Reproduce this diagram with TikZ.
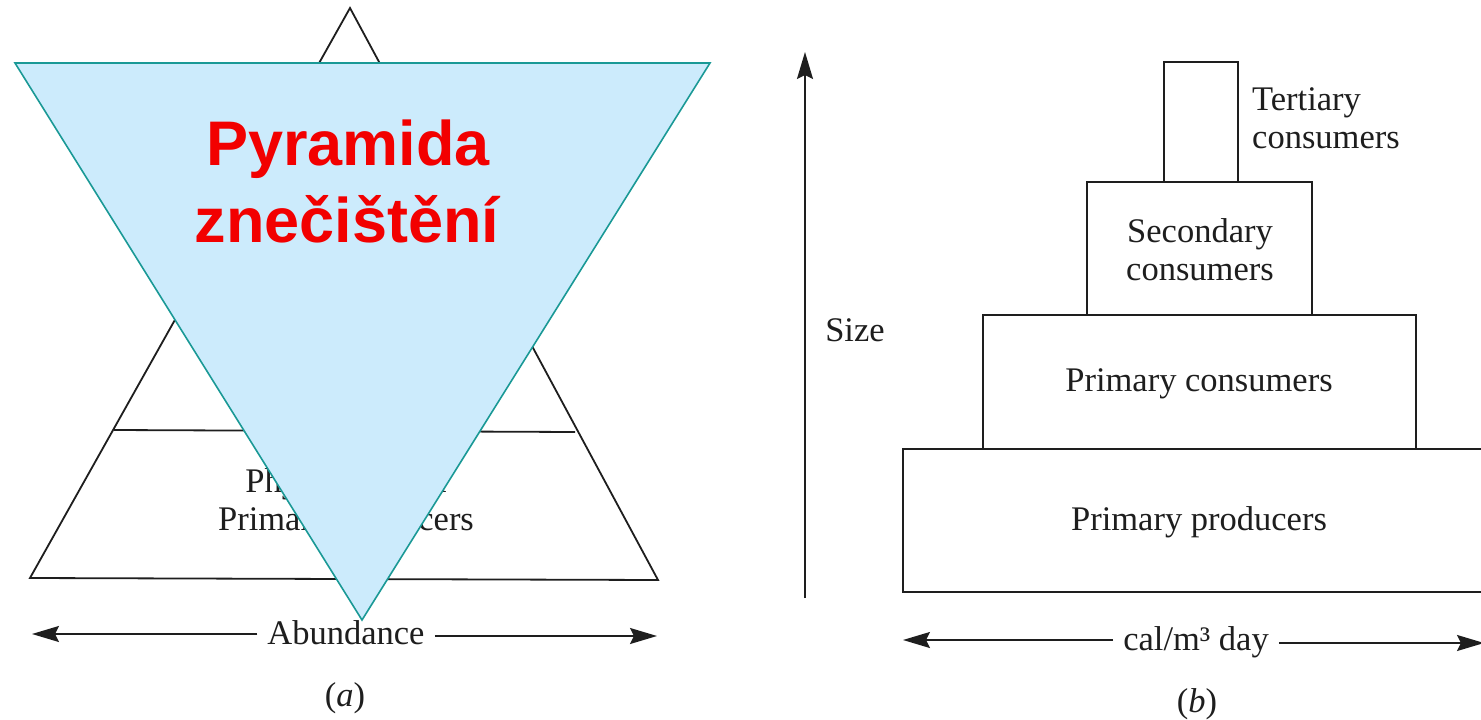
\documentclass[tikz,border=0pt]{standalone}
\usepackage{fontspec}
\setmainfont{Liberation Serif}
\newfontfamily\titlefont{Liberation Sans}
\usetikzlibrary{arrows.meta}
\definecolor{ink}{HTML}{1E1E1E}
\definecolor{skyfill}{HTML}{CCEBFC}
\definecolor{tealedge}{HTML}{1A9996}
\definecolor{titlered}{HTML}{F20000}
\tikzset{
  ln/.style={draw=ink, line width=1.8pt},
  arr/.style={ln, arrows={-Stealth[length=27pt,width=16pt,inset=4pt]}},
  lbl/.style={font=\fontsize{34.5}{40}\selectfont, text=ink, anchor=base, inner sep=0pt},
  lbll/.style={lbl, anchor=base west},
  gap/.style={lbl, inner xsep=10pt},
  ttl/.style={font=\titlefont\bfseries\fontsize{63}{70}\selectfont, text=titlered, anchor=base, inner sep=0pt},
}
\begin{document}
\begin{tikzpicture}[x=1pt,y=-1pt]
\useasboundingbox[fill=white] (0,0) rectangle (1481,720);
% ---------- panel (a) ----------
\coordinate (apex) at (350,8);
\coordinate (bl) at (30,578);
\coordinate (br) at (658,580);
\draw[ln, line join=miter] (bl) -- (apex) -- (br) -- cycle;
\coordinate (tl) at (114,430);
\coordinate (tr) at (575,432);
\draw[ln] (tl) -- (tr);
\node[lbl] (phy) at (346,492) {Phytoplankton};
\node[lbl] (prodA) at (346,530) {Primary producers};
\node[gap] (abund) at (346,644) {Abundance};
\coordinate (abL) at (32,634);
\coordinate (abR) at (657,636);
\draw[arr] (abund.west |- abL) -- (abL);
\draw[arr] (abund.east |- abR) -- (abR);
\node[lbl] (capA) at (345,706) {(\textit{a})};
% overlay triangle
\coordinate (oL) at (15,63);
\coordinate (oR) at (710,63);
\coordinate (oB) at (362,620);
\draw[fill=skyfill, draw=tealedge, line width=1.6pt, line join=miter] (oL) -- (oR) -- (oB) -- cycle;
\node[ttl] (t1) at (348,165) {Pyramida};
\node[ttl] (t2) at (347,242) {znečištění};
% ---------- panel (b) ----------
\coordinate (sB) at (805,598);
\coordinate (sT) at (805,52);
\draw[arr] (sB) -- (sT);
\node[lbl] (size) at (855,341) {Size};
\draw[ln] (903,449) rectangle (1500,592);
\node[lbl] (pp) at (1199,530) {Primary producers};
\draw[ln] (983,315) rectangle (1416,449);
\node[lbl] (pc) at (1199,391) {Primary consumers};
\draw[ln] (1087,182) rectangle (1312,315);
\node[lbl] (sc1) at (1200,242) {Secondary};
\node[lbl] (sc2) at (1200,280) {consumers};
\draw[ln] (1164,62) rectangle (1238,182);
\node[lbll] (tc1) at (1252,110) {Tertiary};
\node[lbll] (tc2) at (1252,148) {consumers};
\node[gap] (cal) at (1196,650) {cal/m³ day};
\coordinate (cL) at (903,640);
\coordinate (cR) at (1484,643);
\draw[arr] (cal.west |- cL) -- (cL);
\draw[arr] (cal.east |- cR) -- (cR);
\node[lbl] (capB) at (1197,712) {(\textit{b})};
\end{tikzpicture}
\end{document}
